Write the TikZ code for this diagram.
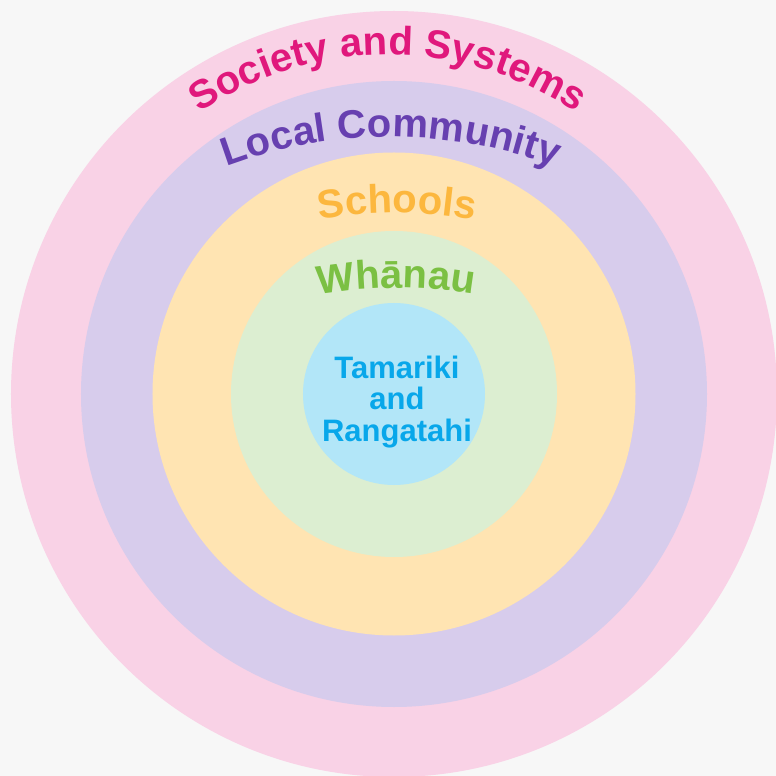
\documentclass[tikz,border=0pt]{standalone}
\usepackage{fontspec}
\setmainfont{Liberation Sans}
\usetikzlibrary{decorations.text}

\definecolor{bgcol}{HTML}{F7F7F7}
\definecolor{societyfill}{HTML}{F9D2E6}
\definecolor{societytext}{HTML}{E0187C}
\definecolor{communityfill}{HTML}{D7CCEC}
\definecolor{communitytext}{HTML}{6740B0}
\definecolor{schoolfill}{HTML}{FFE4B2}
\definecolor{schooltext}{HTML}{FCB73E}
\definecolor{whanaufill}{HTML}{DCEED1}
\definecolor{whanautext}{HTML}{7BC043}
\definecolor{corefill}{HTML}{B2E6F8}
\definecolor{coretext}{HTML}{08A7EA}

\newcommand{\ringfont}[1]{\fontsize{#1}{#1}\selectfont\bfseries}

\tikzset{
  ringlabel/.style={decorate},
}

\begin{document}
\begin{tikzpicture}[x=1pt,y=1pt]
                    \useasboundingbox (-394.000000,-382.000000) rectangle (382.000000,394.000000);
                    \clip (-394.000000,-382.000000) rectangle (382.000000,394.000000);
                    \fill [bgcol] (-394.000000,-382.000000) rectangle (382.000000,394.000000);%

                    % Drawing ring Society and Systems
                    \fill [societyfill] (0.000000,0.000000) circle (383.000000);%

                    % Drawing ring Local Community
                    \fill [communityfill] (0.000000,0.000000) circle (313.000000);%

                    % Drawing ring Schools
                    \fill [schoolfill] (0.000000,0.000000) circle (241.500000);%

                    % Drawing ring Whanau
                    \fill [whanaufill] (0.000000,0.000000) circle (163.000000);%

                    % Drawing core Tamariki and Rangatahi
                    \fill [corefill] (0.000000,0.000000) circle (91.000000);%

                    % Marking ring label Society and Systems
                    {\ringfont{40}
                    \path [ringlabel, decoration={text along path, text align=center, text color=societytext,
                      text={Society and Systems}}]
                      (-6.000000,4.000000) ++(160:335.000000) arc [start angle=160, end angle=20, radius=335.000000];}%

                    % Marking ring label Local Community
                    {\ringfont{40}
                    \path [ringlabel, decoration={text along path, text align=center, text color=communitytext,
                      text={Local Community}}]
                      (-3.000000,-212.000000) ++(120:469.000000) arc [start angle=120, end angle=60, radius=469.000000];}%

                    % Marking ring label Schools
                    {\ringfont{40}
                    \path [ringlabel, decoration={text along path, text align=center, text color=schooltext,
                      text={Schools}}]
                      (3.000000,-257.000000) ++(115:438.000000) arc [start angle=115, end angle=65, radius=438.000000];}%

                    % Marking ring label Whanau
                    {\ringfont{40}
                    \path [ringlabel, decoration={text along path, text align=center, text color=whanautext,
                      text={Whānau}}]
                      (2.000000,-354.000000) ++(115:460.000000) arc [start angle=115, end angle=65, radius=460.000000];}%

                    % Marking point core
                    \node [font=\fontsize{31}{31.5}\selectfont\bfseries, text=coretext, align=center, inner sep=0pt]
                      (core) at (3.000000,-8.000000) {Tamariki\\and\\Rangatahi};%
\end{tikzpicture}
\end{document}
